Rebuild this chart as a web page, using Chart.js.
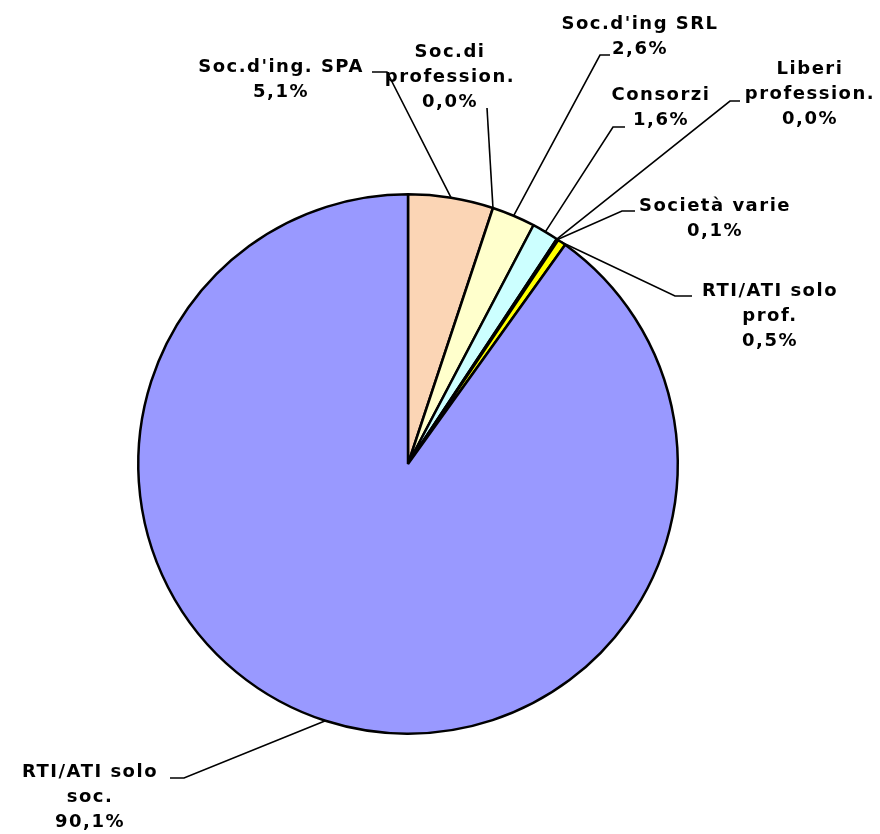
<!DOCTYPE html>
<html>
<head>
<meta charset="utf-8">
<script src="https://cdn.jsdelivr.net/npm/chart.js@4.4.1/dist/chart.umd.min.js"></script>
<style>
  html, body { margin: 0; padding: 0; background: #fff; }
  #wrap { width: 880px; height: 834px; position: relative; }
</style>
</head>
<body>
<div id="wrap"><canvas id="pie"></canvas></div>
<script>
// categories (clockwise from 12 o'clock) and their shares in percent
const labels = ["Soc.d'ing. SPA", 'Soc.di profession.', "Soc.d'ing SRL", 'Consorzi',
                'Liberi profession.', 'Società varie', 'RTI/ATI solo prof.', 'RTI/ATI solo soc.'];
const shares = [5.1, 0.0, 2.6, 1.6, 0.0, 0.1, 0.5, 90.1];
const shareText = ['5,1%', '0,0%', '2,6%', '1,6%', '0,0%', '0,1%', '0,5%', '90,1%'];
const colors = ['#FBD5B5', '#FFFFFF', '#FFFFCC', '#CCFFFF', '#FFFFFF', '#FF99CC', '#FFFF00', '#9999FF'];

// where each label sits: text lines, centre x, first line y, elbow of the leader line
const labelLayout = [
  { lines: ["Soc.d'ing. SPA"], cx: 281, y: 67, ex: 387, ey: 72, hx: 372 },
  { lines: ['Soc.di', 'profession.'], cx: 450, y: 52, ex: 487, ey: 108, hx: 487 },
  { lines: ["Soc.d'ing SRL"], cx: 640, y: 24, ex: 600, ey: 55, hx: 610 },
  { lines: ['Consorzi'], cx: 661, y: 95, ex: 613, ey: 127, hx: 625 },
  { lines: ['Liberi', 'profession.'], cx: 810, y: 69, ex: 730, ey: 101, hx: 740 },
  { lines: ['Società varie'], cx: 715, y: 206, ex: 622, ey: 211, hx: 635 },
  { lines: ['RTI/ATI solo', 'prof.'], cx: 770, y: 291, ex: 675, ey: 296, hx: 692 },
  { lines: ['RTI/ATI solo', 'soc.'], cx: 90, y: 772, ex: 184, ey: 778, hx: 170 }
];

const leaderLabels = {
  id: 'leaderLabels',
  afterDatasetsDraw(chart) {
    const ctx = chart.ctx;
    const arcs = chart.getDatasetMeta(0).data;
    ctx.save();
    ctx.strokeStyle = '#000';
    ctx.lineWidth = 1.6;
    ctx.fillStyle = '#000';
    ctx.font = 'bold 18px "DejaVu Sans"';
    ctx.letterSpacing = '1.5px';
    ctx.textAlign = 'center';
    ctx.textBaseline = 'middle';
    arcs.forEach((arc, i) => {
      const p = arc.getProps(['x', 'y', 'startAngle', 'endAngle', 'outerRadius'], true);
      const mid = (p.startAngle + p.endAngle) / 2;
      const ax = p.x + Math.cos(mid) * p.outerRadius;
      const ay = p.y + Math.sin(mid) * p.outerRadius;
      const L = labelLayout[i];
      ctx.beginPath();
      ctx.moveTo(ax, ay);
      ctx.lineTo(L.ex, L.ey);
      ctx.lineTo(L.hx, L.ey);
      ctx.stroke();
      const all = L.lines.concat([shareText[i]]);
      all.forEach((t, k) => ctx.fillText(t, L.cx, L.y + k * 25));
    });
    ctx.restore();
  }
};

new Chart(document.getElementById('pie'), {
  type: 'pie',
  data: {
    labels: labels,
    datasets: [{
      data: shares,
      backgroundColor: colors,
      borderColor: '#000',
      borderWidth: 2.5
    }]
  },
  options: {
    responsive: true,
    maintainAspectRatio: false,
    animation: false,
    layout: { padding: { top: 193, bottom: 99, left: 137, right: 201 } },
    plugins: { legend: { display: false }, tooltip: { enabled: false } }
  },
  plugins: [leaderLabels]
});
</script>
</body>
</html>
